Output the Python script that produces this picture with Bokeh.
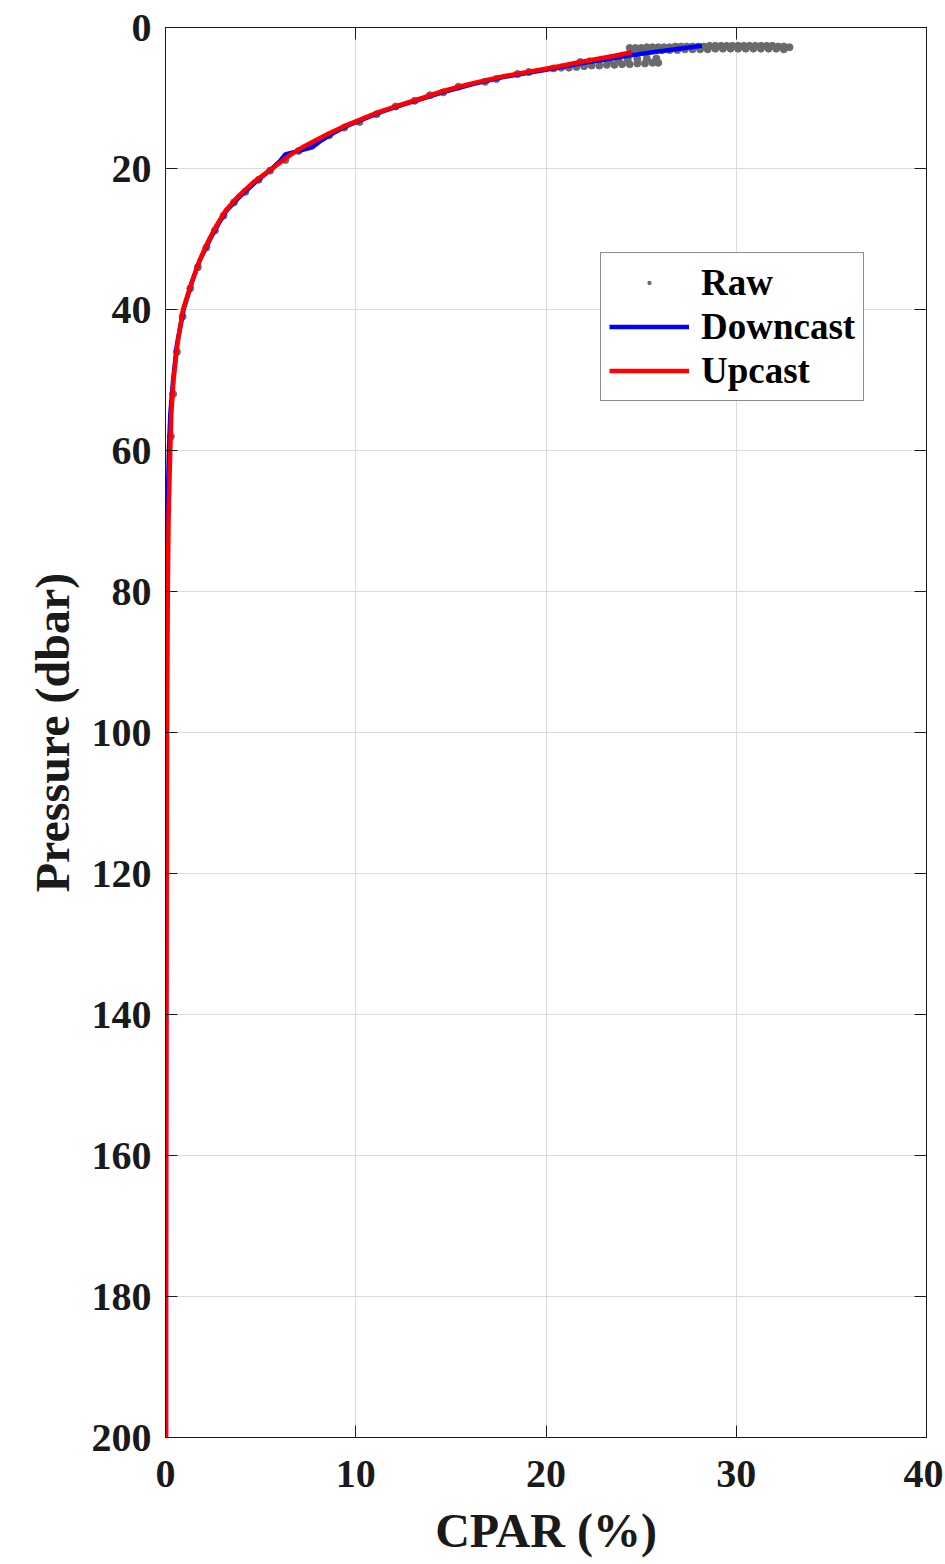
from bokeh.plotting import figure
from bokeh.models import (Range1d, FixedTicker, LinearAxis, Legend, LegendItem,
                          CustomJSTickFormatter)
from bokeh.embed import file_html
from bokeh.resources import INLINE

# ---------------- data ----------------
x_ticks = [0, 10, 20, 30, 40]
y_ticks = [0, 20, 40, 60, 80, 100, 120, 140, 160, 180, 200]

# Raw samples (CPAR %, pressure dbar)
raw_cpar = [24.4, 24.7, 25.0, 25.3, 25.6, 25.9, 26.2, 26.5, 26.8, 27.1, 27.4, 27.7,
            28.0, 28.3, 28.6, 28.9, 29.2, 29.5, 29.8, 30.1, 30.4, 30.7, 31.0, 31.3,
            31.6, 31.9, 32.2, 32.5, 32.8,
            24.5, 24.9, 25.3, 25.7, 26.1, 26.5, 26.9, 27.3, 27.7, 28.1, 28.5, 28.9,
            29.3, 29.7, 30.1, 30.5, 30.9, 31.3, 31.7, 32.1, 32.5,
            20.4, 20.8, 21.2, 21.6, 22.0, 22.4, 22.8, 23.2, 23.6, 24.0, 24.4, 24.8,
            25.2, 25.6, 25.9,
            21.8, 22.3, 22.8, 23.3, 23.8, 24.3, 24.8, 25.3, 25.8,
            19.1, 18.5, 17.4, 16.8, 15.4, 14.6, 13.9, 13.1, 12.1, 11.1, 10.2, 9.4,
            8.6, 7.7, 7.0, 6.3, 5.5, 4.9, 4.2, 3.6, 3.05, 2.6, 2.15, 1.7, 1.3,
            0.9, 0.6, 0.4, 0.28]
raw_pres = [2.9, 2.9, 2.9, 2.8, 2.8, 2.8, 2.8, 2.8, 2.7, 2.7, 2.7, 2.7,
            2.7, 2.7, 2.6, 2.6, 2.6, 2.6, 2.6, 2.6, 2.6, 2.6, 2.6, 2.6,
            2.6, 2.6, 2.7, 2.7, 2.8,
            3.3, 3.3, 3.3, 3.2, 3.2, 3.2, 3.2, 3.1, 3.1, 3.1, 3.1, 3.0,
            3.0, 3.0, 3.0, 3.0, 3.0, 3.0, 3.0, 3.0, 3.1,
            5.8, 5.7, 5.7, 5.6, 5.5, 5.4, 5.4, 5.3, 5.3, 5.2, 5.2, 5.1,
            5.1, 5.0, 5.0,
            4.9, 4.8, 4.7, 4.7, 4.6, 4.5, 4.5, 4.4, 4.4,
            6.3, 6.6, 7.3, 7.7, 8.4, 9.2, 9.6, 10.4, 11.2, 12.3, 13.4, 14.2,
            15.3, 16.6, 17.5, 18.8, 20.3, 21.6, 23.3, 24.8, 26.7, 28.8, 31.2, 34.0, 37.0,
            41.0, 46.0, 52.0, 58.0]

# Downcast profile
down_pres = [2.6, 3.0, 3.5, 4.0, 4.5, 5.0, 5.5, 6.0, 7.0, 8.0, 9.0, 10, 11, 12, 13, 14,
             15, 16, 17, 18, 19, 20, 22, 24, 26, 28, 30, 33, 36, 40, 45, 50, 55, 60,
             65, 70, 80, 90, 100, 120, 140, 160, 180, 200]
down_cpar = [28.2, 27.0, 25.6, 24.3, 23.2, 22.0, 21.0, 20.0, 17.8, 16.2, 14.8, 13.6,
             12.4, 11.3, 10.4, 9.5, 8.8, 8.2, 7.7, 6.3, 6.0, 5.6, 4.7, 3.9, 3.2, 2.75,
             2.35, 1.8, 1.4, 0.95, 0.6, 0.4, 0.25, 0.18, 0.14, 0.11, 0.08, 0.06, 0.05,
             0.04, 0.03, 0.02, 0.02, 0.02]

# Upcast profile
up_pres = [3.5, 4.0, 4.5, 5.0, 5.5, 6.0, 7.0, 8.0, 9.0, 10, 11, 12, 13, 14, 15, 16,
           17, 18, 19, 20, 22, 24, 26, 28, 30, 33, 36, 40, 45, 50, 55, 60, 65, 70,
           80, 90, 100, 120, 140, 160, 180, 200]
up_cpar = [24.5, 23.6, 22.6, 21.6, 20.7, 19.7, 17.6, 16.0, 14.6, 13.5, 12.3, 11.2,
           10.3, 9.4, 8.6, 7.9, 7.2, 6.6, 6.1, 5.6, 4.6, 3.8, 3.15, 2.7, 2.3, 1.8,
           1.4, 0.92, 0.62, 0.42, 0.3, 0.25, 0.2, 0.16, 0.12, 0.1, 0.08, 0.06, 0.05,
           0.04, 0.03, 0.03]

# ---------------- figure ----------------
FONT = "Liberation Serif"
INK = "#1a1a1a"
GRAY = "#6a6a6a"

p = figure(frame_width=761, frame_height=1410,
           x_range=Range1d(0, 40), y_range=Range1d(200, 0),
           output_backend="svg", toolbar_location=None,
           min_border_left=165, min_border_right=17,
           min_border_top=27, min_border_bottom=120,
           background_fill_color="white", border_fill_color="white")

p.outline_line_color = INK
p.outline_line_width = 1

# small-dot renderer used as the legend key (one raw sample, hidden under the band)
r_raw_key = p.scatter(raw_cpar[:1], raw_pres[:1], size=4, marker="dot",
                      fill_color=GRAY, line_color=GRAY)
r_raw = p.scatter(raw_cpar, raw_pres, size=7, marker="circle",
                  fill_color=GRAY, line_color=GRAY)
r_down = p.line(down_cpar, down_pres, line_color="#0000ff", line_width=4.5)
r_up = p.line(up_cpar, up_pres, line_color="#ff0000", line_width=4.5)

p.xaxis.ticker = FixedTicker(ticks=x_ticks)
p.yaxis.ticker = FixedTicker(ticks=y_ticks)
p.xgrid.ticker = FixedTicker(ticks=x_ticks)
p.ygrid.ticker = FixedTicker(ticks=y_ticks)
p.grid.grid_line_color = "#dcdcdc"
p.grid.grid_line_width = 1

for ax in (p.xaxis[0], p.yaxis[0]):
    ax.major_tick_in = 12
    ax.major_tick_out = 0
    ax.minor_tick_line_color = None
    ax.axis_line_color = INK
    ax.major_tick_line_color = INK
    ax.major_label_text_font = FONT
    ax.major_label_text_font_style = "bold"
    ax.major_label_text_font_size = "40px"
    ax.major_label_text_color = INK
    ax.axis_label_text_font = FONT
    ax.axis_label_text_font_style = "bold"
    ax.axis_label_text_font_size = "48px"
    ax.axis_label_text_color = INK

p.xaxis.major_label_standoff = 23
p.xaxis.axis_label_standoff = 14
p.yaxis.major_label_standoff = 14
p.yaxis.axis_label_standoff = 10

p.xaxis.axis_label = "CPAR (%)"
p.yaxis.axis_label = "Pressure (dbar)"
p.yaxis.major_label_orientation = "horizontal"

# Box ticks on top and right (MATLAB "box on")
blank = CustomJSTickFormatter(code="return ''")
top_ax = LinearAxis(ticker=FixedTicker(ticks=x_ticks), formatter=blank)
right_ax = LinearAxis(ticker=FixedTicker(ticks=y_ticks), formatter=blank)
for ax in (top_ax, right_ax):
    ax.major_tick_in = 12
    ax.major_tick_out = 0
    ax.minor_tick_line_color = None
    ax.axis_line_color = INK
    ax.major_tick_line_color = INK
    ax.major_label_text_font_size = "1px"
    ax.major_label_standoff = 0
p.add_layout(top_ax, "above")
p.add_layout(right_ax, "right")

legend = Legend(items=[LegendItem(label="Raw", renderers=[r_raw_key]),
                       LegendItem(label="Downcast", renderers=[r_down]),
                       LegendItem(label="Upcast", renderers=[r_up])],
                location=(435, 1036))
legend.label_text_font = FONT
legend.label_text_font_style = "bold"
legend.label_text_font_size = "37px"
legend.label_text_color = "black"
legend.glyph_width = 80
legend.glyph_height = 43
legend.label_height = 43
legend.label_standoff = 12
legend.spacing = 1
legend.padding = 8
legend.margin = 0
legend.border_line_color = INK
legend.border_line_width = 1
legend.background_fill_color = "white"
legend.background_fill_alpha = 1.0
p.add_layout(legend, "center")

open("out.html", "w").write(file_html(p, INLINE))
